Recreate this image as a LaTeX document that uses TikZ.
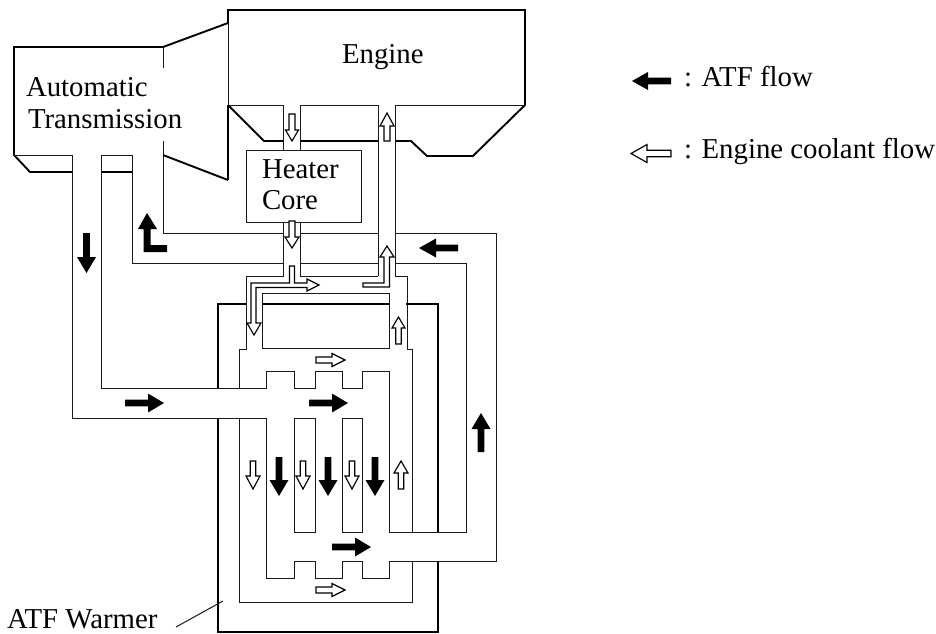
\documentclass[tikz,border=0pt]{standalone}
\usepackage{fontspec}
\setmainfont{Liberation Serif}
\tikzset{
  thinline/.style={draw=black!90,line width=1pt,line join=miter},
  midline/.style={draw=black,line width=1.3pt},
  thickline/.style={draw=black,line width=1.9pt,line join=miter},
  atf/.style={fill=black,draw=none},
  coolant/.style={fill=white,draw=black,line width=1.15pt,line join=miter},
  lbl/.style={anchor=base west,inner sep=0pt,outer sep=0pt,font=\fontsize{28.8}{32}\selectfont}
}
% vertical arrow: style, x, tail y, head base y, tip y, half shaft, half head
\newcommand{\vflow}[7]{\path[#1] ({#2-#6},#3) -- ({#2-#6},#4) -- ({#2-#7},#4) -- (#2,#5) -- ({#2+#7},#4) -- ({#2+#6},#4) -- ({#2+#6},#3) -- cycle;}
% horizontal arrow: style, y, tail x, head base x, tip x, half shaft, half head
\newcommand{\hflow}[7]{\path[#1] (#3,{#2-#6}) -- (#4,{#2-#6}) -- (#4,{#2-#7}) -- (#5,#2) -- (#4,{#2+#7}) -- (#4,{#2+#6}) -- (#3,{#2+#6}) -- cycle;}
\begin{document}
\begin{tikzpicture}[x=1pt,y=-1pt]
\useasboundingbox (0,0) rectangle (936,633);
\fill[white] (0,0) rectangle (936,633);

% Transmission
\draw[thickline] (72,172) -- (30,172) -- (14,155) -- (14,47) -- (163,47) -- (228,23) -- (228,10) -- (525,10) -- (525,105) -- (473,156) -- (427,156) -- (411,141) -- (395,141);
\draw[thickline] (101,172) -- (132,172);
\draw[thickline] (163,155) -- (228,180);
\draw[thinline] (228,23) -- (228,105);
\draw[midline] (228,105) -- (228,180);
\draw[thinline] (14,155) -- (72,155) -- (72,418) -- (266,418);
\draw[thinline] (101,388) -- (101,155) -- (132,155) -- (132,263) -- (283,263);
\draw[thinline] (163,47) -- (163,68);
\draw[thinline] (163,141) -- (163,233) -- (283,233);

% Engine
\draw[thickline] (228,105) -- (264,141) -- (283,141);
\draw[thickline] (300,141) -- (378,141);
\draw[thinline] (283,150) -- (283,105) -- (228,105);
\draw[thinline] (300,150) -- (300,105) -- (378,105) -- (378,276);
\draw[thinline] (525,105) -- (395,105) -- (395,276);

% Heater core
\draw[thinline] (246,150) rectangle (361,222);

% Pipes below the core
\draw[thinline] (283,222) -- (283,276) -- (246,276) -- (246,349) -- (239,349) -- (239,388);
\draw[thinline] (300,222) -- (300,276) -- (378,276);
\draw[thinline] (300,233) -- (378,233);
\draw[thinline] (300,263) -- (378,263);
\draw[thinline] (395,276) -- (407,276) -- (407,349) -- (412.5,349) -- (412.5,532);
\draw[thinline] (395,233) -- (496,233) -- (496,561) -- (389,561);
\draw[thinline] (395,263) -- (466,263) -- (466,532) -- (389,532);

% ATF Warmer shell
\draw[thickline] (218,388) -- (218,304) -- (246,304);
\draw[thickline] (262,304) -- (390,304);
\draw[thickline] (406,304) -- (438,304) -- (438,532);
\draw[thickline] (218,418) -- (218,632) -- (438,632) -- (438,561);

% Inner box
\draw[thinline] (262,293) rectangle (389,348);

% Chambers and channels
\draw[thinline] (101,388) -- (266,388) -- (266,371) -- (294,371) -- (294,388) -- (315,388) -- (315,371) -- (342,371) -- (342,388) -- (362,388) -- (362,371) -- (389,371) -- (389,532);
\draw[thinline] (266,418) -- (266,578) -- (294,578) -- (294,561) -- (315,561) -- (315,578) -- (342,578) -- (342,561) -- (362,561) -- (362,578) -- (389,578) -- (389,561);
\draw[thinline] (294,418) rectangle (315,532);
\draw[thinline] (342,418) rectangle (362,532);
\draw[thinline] (239,418) -- (239,602) -- (412.5,602) -- (412.5,561);

% ATF flow arrows
\vflow{atf}{86.5}{233}{257}{273}{3.4}{9.5}
\path[atf] (143.5,252) -- (143.5,229) -- (138,229) -- (147,213) -- (157,229) -- (150.5,229) -- (150.5,245) -- (167,245) -- (167,252) -- cycle;
\hflow{atf}{403}{125}{148}{164}{3.4}{9.5}
\hflow{atf}{403}{309}{332}{348}{3.4}{9.5}
\hflow{atf}{248}{458}{436}{419}{3.4}{9.5}
\vflow{atf}{481}{452}{429}{413}{3.4}{9.5}
\vflow{atf}{279}{457}{480}{496}{3.4}{9.5}
\vflow{atf}{328}{457}{480}{496}{3.4}{9.5}
\vflow{atf}{375}{457}{480}{496}{3.4}{9.5}
\hflow{atf}{547}{332}{355}{371}{3.4}{9.5}

% Coolant flow arrows
\vflow{coolant}{292}{114}{130}{141}{3}{6.5}
\vflow{coolant}{387}{141}{126}{113}{3}{7}
\vflow{coolant}{292}{221}{237}{248}{3}{7}
\path[coolant] (289.5,266) -- (289.5,283) -- (251,283) -- (251,323) -- (247,323) -- (254,335) -- (261,323) -- (256,323) -- (256,287.5) -- (307,287.5) -- (307,291) -- (319,285) -- (307,279) -- (307,283) -- (294.5,283) -- (294.5,266) -- cycle;
\path[coolant] (363,283) -- (384,283) -- (384,257) -- (380,257) -- (387,246) -- (394,257) -- (389.5,257) -- (389.5,287) -- (363,287) -- cycle;
\vflow{coolant}{398.5}{344}{328}{317}{2.7}{6.5}
\hflow{coolant}{360}{316}{332}{345}{3}{6.5}
\vflow{coolant}{253}{461}{476}{489}{2.7}{7}
\vflow{coolant}{303}{461}{476}{489}{2.7}{7}
\vflow{coolant}{352}{461}{476}{489}{2.7}{7}
\vflow{coolant}{401}{489}{473}{461}{2.7}{7}
\hflow{coolant}{590}{316}{332}{345}{3}{6.5}

% Labels
\node[lbl] (auto) at (26,96) {Automatic};
\node[lbl] (trans) at (28,128) {Transmission};
\node[lbl] (engine) at (342,63) {Engine};
\node[lbl] (heater) at (262,178) {Heater};
\node[lbl] (core) at (262,209) {Core};
\node[lbl] (warmer) at (7,628) {ATF Warmer};
\coordinate (warmertip) at (223,601);
\coordinate (warmerfoot) at (176,627);
\draw[thinline] (warmerfoot) -- (warmertip);

% Legend
\hflow{atf}{81}{671}{648}{632}{3.4}{9}
\hflow{coolant}{153.5}{671}{647}{631}{3.3}{9}
\node[lbl] (legatf) at (684,86) {: ATF flow};
\node[lbl] (legcool) at (684,158) {: Engine coolant flow};
\end{tikzpicture}
\end{document}
